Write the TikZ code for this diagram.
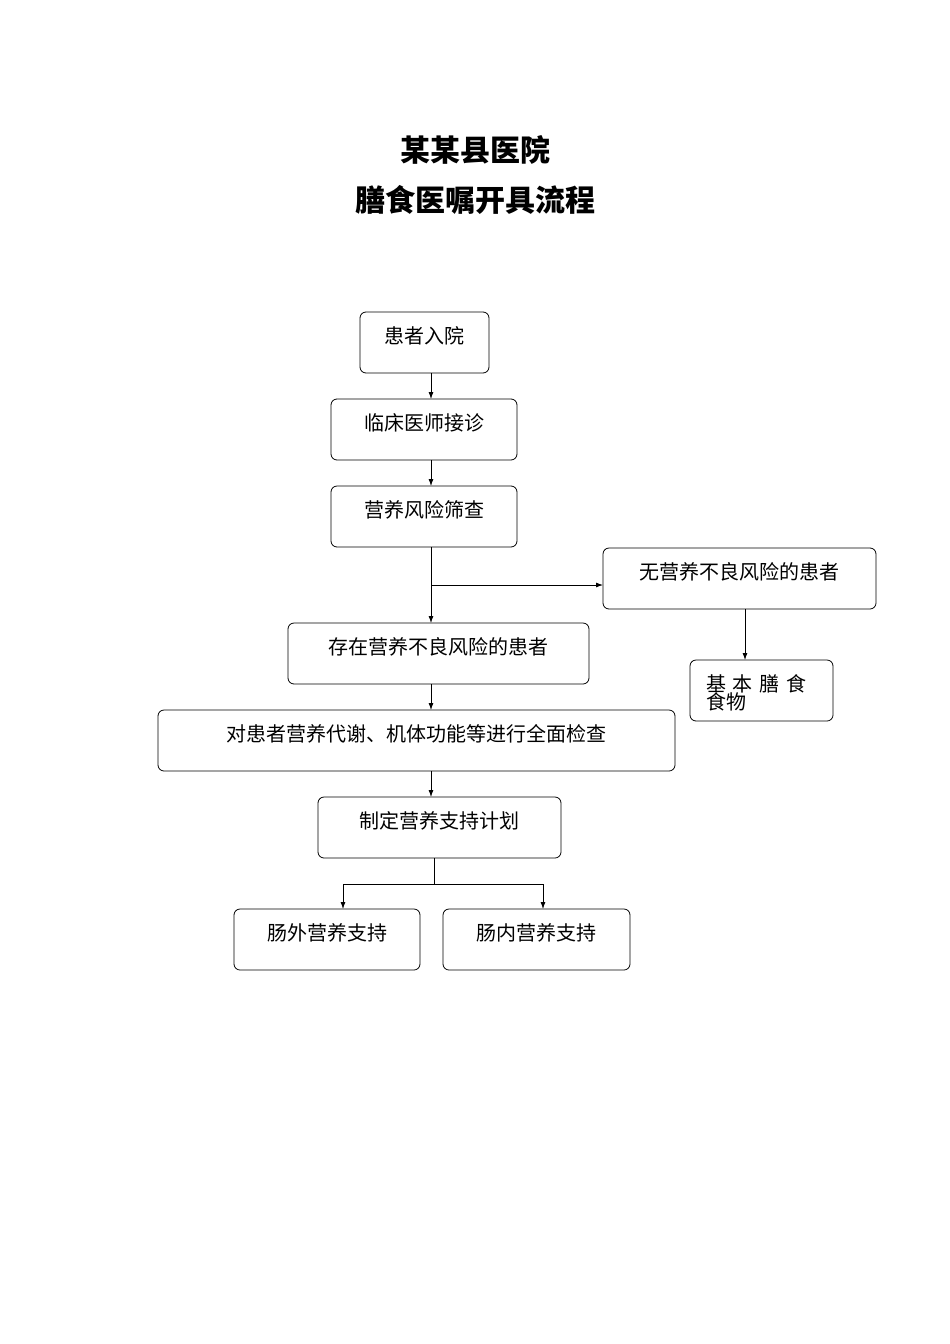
\documentclass[tikz,border=0pt]{standalone}
\usepackage{fontspec}
\setmainfont{Noto Sans CJK SC}
\usetikzlibrary{arrows.meta}
\begin{document}
\begin{tikzpicture}[x=1pt,y=-1pt,
  box/.style={draw,rounded corners=6pt,line width=0.8pt},
  lbl/.style={font=\fontsize{20}{22}\selectfont,inner sep=0pt},
  arr/.style={-{Latex[length=7pt,width=5pt]},line width=0.8pt}]
\useasboundingbox (0,0) rectangle (950,1344);
\node[font=\bfseries\fontsize{30}{32}\selectfont] (t1) at (475,150) {某某县医院};
\node[font=\bfseries\fontsize{30}{32}\selectfont] (t2) at (475,200) {膳食医嘱开具流程};
\newcommand\bx[6]{\draw[box] (#2,#3) rectangle (#4,#5); \coordinate (#1) at ({(#2+#4)/2},#3);
  \node[lbl] (#1t) at ({(#2+#4)/2},{#3+24}) {#6};}
\bx{a}{360}{312}{489}{373}{患者入院}
\bx{b}{331}{399}{517}{460}{临床医师接诊}
\bx{c}{331}{486}{517}{547}{营养风险筛查}
\bx{d}{603}{548}{876}{609}{无营养不良风险的患者}
\bx{e}{288}{623}{589}{684}{存在营养不良风险的患者}
\draw[box] (690,660) rectangle (833,721);
\node[lbl,align=left,anchor=north west] (ft) at (706,674) {基\,\,本\,\,膳\,\,食\\[-4pt]食物};
\bx{g}{158}{710}{675}{771}{对患者营养代谢、机体功能等进行全面检查}
\bx{h}{318}{797}{561}{858}{制定营养支持计划}
\bx{i}{234}{909}{420}{970}{肠外营养支持}
\bx{j}{443}{909}{630}{970}{肠内营养支持}
\coordinate (br) at (431,585);
\coordinate (fk) at (434,884);
\draw[arr] (431,373) -- (431,399);
\draw[arr] (431,460) -- (431,486);
\draw[arr] (431,547) -- (431,623);
\draw[arr] (br) -- (603,585);
\draw[arr] (745,609) -- (745,660);
\draw[arr] (431,684) -- (431,710);
\draw[arr] (431,771) -- (431,797);
\draw[line width=0.8pt] (434,858) -- (fk);
\draw[arr] (fk) -| (343,909);
\draw[arr] (fk) -| (543,909);
\end{tikzpicture}
\end{document}
